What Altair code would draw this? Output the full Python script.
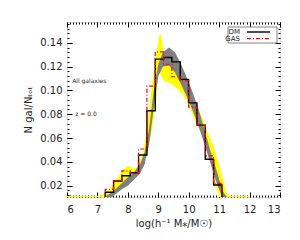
import altair as alt
import pandas as pd

# ---- data ----
edges = [7.256, 7.530, 7.804, 8.078, 8.352, 8.626, 8.900, 9.174, 9.448,
         9.722, 9.996, 10.270, 10.544, 10.818, 11.092]
dm_vals = [0.0145, 0.0239, 0.0284, 0.0309, 0.0458, 0.0829, 0.1263, 0.1277,
           0.1240, 0.1093, 0.0896, 0.0709, 0.0422, 0.0206]
gas_vals = [0.0170, 0.0240, 0.0325, 0.0310, 0.0508, 0.1037, 0.1324, 0.1220,
            0.1115, 0.1080, 0.0860, 0.0709, 0.0450, 0.0220]

yel_x = [6.0, 7.05, 7.3, 7.55, 7.8, 8.0, 8.2, 8.35, 8.5, 8.6, 8.75, 8.9, 9.03,
         9.07, 9.2, 9.4, 9.6, 9.8, 10.0, 10.2, 10.4, 10.6, 10.8, 10.95, 11.1,
         11.25, 11.4, 12.0]
yel_lo = [0.0, 0.0, 0.0, 0.013, 0.020, 0.024, 0.026, 0.030, 0.038, 0.045,
          0.060, 0.085, 0.120, 0.113, 0.108, 0.106, 0.102, 0.097, 0.088, 0.075,
          0.064, 0.050, 0.032, 0.015, 0.0, 0.0, 0.0, 0.0]
yel_hi = [0.0114, 0.0114, 0.014, 0.022, 0.032, 0.037, 0.034, 0.037, 0.048,
          0.062, 0.095, 0.125, 0.146, 0.148, 0.130, 0.124, 0.118, 0.112, 0.102,
          0.092, 0.080, 0.066, 0.054, 0.042, 0.028, 0.013, 0.0114, 0.0114]

gry_x = [7.25, 7.5, 7.8, 8.0, 8.2, 8.4, 8.55, 8.7, 8.85, 9.0, 9.15, 9.35,
         9.55, 9.75, 9.95, 10.15, 10.35, 10.55, 10.75, 10.95, 11.1, 11.25]
gry_lo = [0.0, 0.011, 0.017, 0.020, 0.025, 0.030, 0.038, 0.055, 0.085, 0.112,
          0.120, 0.121, 0.115, 0.105, 0.094, 0.082, 0.068, 0.052, 0.036, 0.020,
          0.011, 0.0]
gry_hi = [0.011, 0.015, 0.022, 0.027, 0.031, 0.038, 0.048, 0.068, 0.100,
          0.122, 0.132, 0.136, 0.132, 0.122, 0.110, 0.097, 0.082, 0.064, 0.046,
          0.030, 0.016, 0.0105]

x_major = [6, 7, 8, 9, 10, 11, 12, 13]
x_minor = [round(6 + 0.1 * i, 1) for i in range(71)]
y_major = [0.02, 0.04, 0.06, 0.08, 0.10, 0.12, 0.14]
y_minor = [round(0.012 + 0.004 * i, 3) for i in range(37)]

notes = ["All galaxies", "z = 0.0"]
notes_x = [6.17, 6.27]
notes_y = [0.1079, 0.0800]

W, H = 213, 175
XD = [6, 13]
YD = [0.0105, 0.1575]

xs = alt.Scale(domain=XD, nice=False, zero=False)
ys = alt.Scale(domain=YD, nice=False, zero=False)
XT = "log(h\u207b\u00b9 M\u204e/M\u2609)"
YT = "N gal/N\u209c\u2092\u209c"
FONT = "DejaVu Sans"
TC = "black"

common = dict(domain=False, grid=False, tickColor=TC, tickWidth=1)

ax_x_bot = alt.Axis(orient="bottom", values=x_major, offset=-5, tickSize=5, labelFontSize=10,
                    labelPadding=7, labelColor="#222", titleFontSize=10, titleFontWeight="normal",
                    titleColor="#222", titlePadding=4, title=XT, format="d", labelFont=FONT,
                    titleFont=FONT, **common)
ax_x_top = alt.Axis(orient="top", values=x_major, offset=-5, tickSize=5, labels=False, title=None, **common)
ax_x_bot_m = alt.Axis(orient="bottom", values=x_minor, offset=-2, tickSize=2, labels=False, title=None, **common)
ax_x_top_m = alt.Axis(orient="top", values=x_minor, offset=-2, tickSize=2, labels=False, title=None, **common)

ax_y_left = alt.Axis(orient="left", values=y_major, offset=-5, tickSize=5, labelFontSize=10,
                     labelPadding=5, labelColor="#222", titleFontSize=10, titleFontWeight="normal",
                     titleColor="#222", titlePadding=6, title=YT, format=".2f", labelFont=FONT,
                     titleFont=FONT, **common)
ax_y_right = alt.Axis(orient="right", values=y_major, offset=-5, tickSize=5, labels=False, title=None, **common)
ax_y_left_m = alt.Axis(orient="left", values=y_minor, offset=-2, tickSize=2, labels=False, title=None, **common)
ax_y_right_m = alt.Axis(orient="right", values=y_minor, offset=-2, tickSize=2, labels=False, title=None, **common)


def steps(e, v):
    px, py = [e[0]], [0.0]
    for i, val in enumerate(v):
        px += [e[i], e[i + 1]]
        py += [val, val]
    px.append(e[-1])
    py.append(0.0)
    return pd.DataFrame({"x": px, "y": py, "o": list(range(len(px)))})


yel = pd.DataFrame({"x": yel_x, "lo": yel_lo, "hi": yel_hi})
gry = pd.DataFrame({"x": gry_x, "lo": gry_lo, "hi": gry_hi})

band_y = alt.Chart(yel).mark_area(color="#ffff00", clip=True).encode(
    x=alt.X("x:Q", scale=xs, axis=ax_x_bot),
    y=alt.Y("lo:Q", scale=ys, axis=ax_y_left),
    y2="hi:Q")
band_g = alt.Chart(gry).mark_area(color="#808080", clip=True).encode(
    x=alt.X("x:Q", scale=xs, axis=ax_x_top),
    y=alt.Y("lo:Q", scale=ys, axis=ax_y_right),
    y2="hi:Q")
line_dm = alt.Chart(steps(edges, dm_vals)).mark_line(color="black", strokeWidth=1.4, clip=True).encode(
    x=alt.X("x:Q", scale=xs, axis=ax_x_bot_m),
    y=alt.Y("y:Q", scale=ys, axis=ax_y_left_m), order="o:Q")
line_gas = alt.Chart(steps(edges, gas_vals)).mark_line(color="#ff0000", strokeWidth=1.2,
                                                       strokeDash=[4, 2, 1, 2], clip=True).encode(
    x=alt.X("x:Q", scale=xs, axis=ax_x_top_m),
    y=alt.Y("y:Q", scale=ys, axis=ax_y_right_m), order="o:Q")

nd = pd.DataFrame({"x": notes_x, "y": notes_y, "t": notes})
note_txt = alt.Chart(nd).mark_text(align="left", baseline="middle", fontSize=6,
                                   font=FONT, color="#222").encode(
    x=alt.X("x:Q", scale=xs, axis=None),
    y=alt.Y("y:Q", scale=ys, axis=None), text="t:N")

leg_names = ["DM", "GAS"]
leg_box = alt.Chart(pd.DataFrame({"a": [0]})).mark_rect(fill="white", stroke="#666", strokeWidth=0.8).encode(
    x=alt.value(161), x2=alt.value(210), y=alt.value(5), y2=alt.value(21))
leg_t1 = alt.Chart(pd.DataFrame({"t": [leg_names[0]]})).mark_text(
    align="right", baseline="middle", fontSize=7, font=FONT, color="#222").encode(
    x=alt.value(173), y=alt.value(10), text="t:N")
leg_t2 = alt.Chart(pd.DataFrame({"t": [leg_names[1]]})).mark_text(
    align="right", baseline="middle", fontSize=7, font=FONT, color="#222").encode(
    x=alt.value(173), y=alt.value(16.6), text="t:N")
leg_l1 = alt.Chart(pd.DataFrame({"a": [0]})).mark_rule(color="black", strokeWidth=1.4).encode(
    x=alt.value(180), x2=alt.value(203), y=alt.value(10))
leg_l2 = alt.Chart(pd.DataFrame({"a": [0]})).mark_rule(color="#ff0000", strokeWidth=1.2,
                                                        strokeDash=[4, 2, 1, 2]).encode(
    x=alt.value(180), x2=alt.value(203), y=alt.value(16.6))

chart = alt.layer(band_y, band_g, line_dm, line_gas, note_txt,
                  leg_box, leg_t1, leg_t2, leg_l1, leg_l2).resolve_axis(
    x="independent", y="independent").properties(
    width=W, height=H,
    autosize=alt.AutoSizeParams(type="none"),
    padding={"left": 59, "top": 14, "right": 12, "bottom": 33},
).configure_view(stroke="black", strokeWidth=1.2).configure(background="white")

chart.save("out.html", embed_options={"renderer": "svg", "actions": False})
